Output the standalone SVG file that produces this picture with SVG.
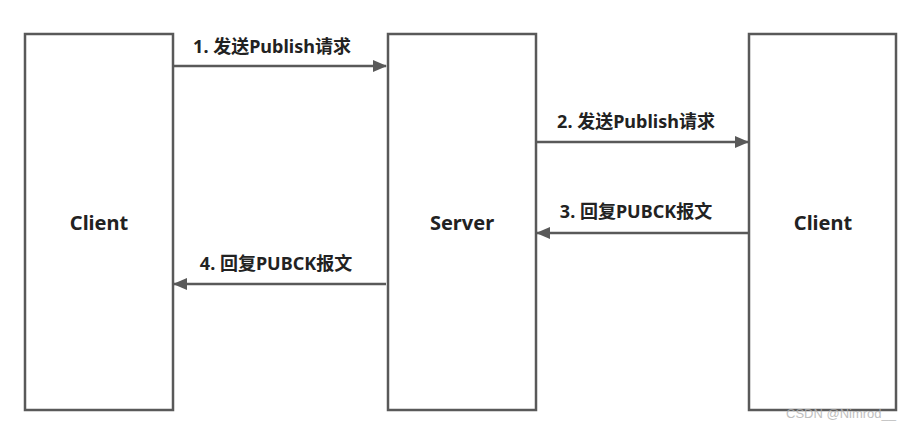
<svg xmlns="http://www.w3.org/2000/svg" width="910" height="430" viewBox="0 0 910 430">
<defs>
<marker id="ah" markerWidth="14" markerHeight="12" refX="13" refY="6" orient="auto" markerUnits="userSpaceOnUse" viewBox="0 0 14 12">
<path d="M0,0 L14,6 L0,12 Z" fill="#595959"/>
</marker>
<style>
.box{fill:#fff;stroke:#595959;stroke-width:2.5}
.node{font-family:"Noto Sans","Noto Sans CJK SC",sans-serif;font-weight:bold;font-size:20px;fill:#222;text-anchor:middle}
.lbl{font-family:"Noto Sans","Noto Sans CJK SC",sans-serif;font-weight:bold;font-size:18px;fill:#222;text-anchor:middle}
.conn{stroke:#595959;stroke-width:2.5;fill:none;marker-end:url(#ah)}
.wm{font-family:"Liberation Sans",sans-serif;font-size:13px;fill:#b0b0b0;opacity:0.8}
</style>
</defs>
<rect width="910" height="430" fill="#fff"/>
<g id="client-left">
<rect class="box" x="25" y="34" width="148" height="376"/>
<text class="node" x="99" y="230">Client</text>
</g>
<g id="server">
<rect class="box" x="388" y="34" width="148" height="376"/>
<text class="node" x="462" y="230">Server</text>
</g>
<g id="client-right">
<rect class="box" x="749" y="34" width="147" height="376"/>
<text class="node" x="823" y="230">Client</text>
</g>
<g id="connectors">
<line class="conn" x1="174" y1="66" x2="386" y2="66"/>
<text class="lbl" x="272" y="53">1. 发送Publish请求</text>
<line class="conn" x1="537" y1="142" x2="748" y2="142"/>
<text class="lbl" x="636" y="128">2. 发送Publish请求</text>
<line class="conn" x1="748" y1="233" x2="537" y2="233"/>
<text class="lbl" x="636" y="218">3. 回复PUBCK报文</text>
<line class="conn" x1="386" y1="284" x2="174" y2="284"/>
<text class="lbl" x="276" y="270">4. 回复PUBCK报文</text>
</g>
<text class="wm" x="786" y="418">CSDN @Nimrod__</text>
</svg>
